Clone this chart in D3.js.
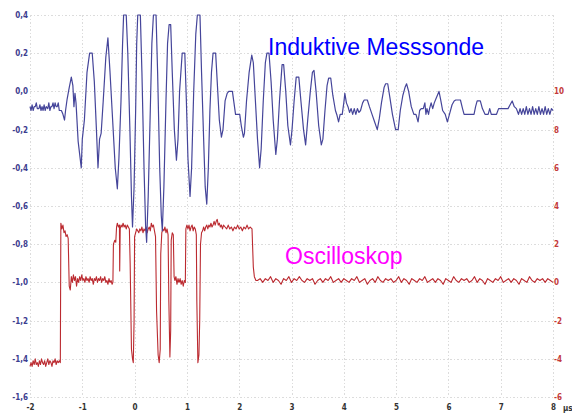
<!DOCTYPE html>
<html>
<head>
<meta charset="utf-8">
<script src="https://cdn.jsdelivr.net/npm/d3@7"></script>
<style>
  html, body { margin: 0; padding: 0; background: #fff; }
  svg { display: block; }
</style>
</head>
<body>
<svg id="chart" width="572" height="415"></svg>
<script>
// ---- tick values ----
const timeTicks = [-2, -1, 0, 1, 2, 3, 4, 5, 6, 7, 8];
const leftTicks = [0.4, 0.2, 0.0, -0.2, -0.4, -0.6, -0.8, -1.0, -1.2, -1.4, -1.6];
const rightTicks = [10, 8, 6, 4, 2, 0, -2, -4, -6];
const timeUnit = "µs";
const probeLabel = "Induktive Messsonde";
const scopeLabel = "Oscilloskop";

// ---- inductive probe signal [time µs, value (left axis)] ----
const probeSignal = [
  [-2.00,-0.08],[-1.98,-0.10],[-1.96,-0.07],[-1.94,-0.10],[-1.92,-0.08],[-1.90,-0.08],[-1.88,-0.06],
  [-1.86,-0.09],[-1.83,-0.09],[-1.81,-0.07],[-1.79,-0.10],[-1.77,-0.08],[-1.75,-0.10],[-1.73,-0.07],
  [-1.71,-0.10],[-1.69,-0.08],[-1.66,-0.09],[-1.64,-0.06],[-1.62,-0.10],[-1.60,-0.08],[-1.58,-0.08],
  [-1.56,-0.06],[-1.54,-0.09],[-1.52,-0.06],[-1.50,-0.08],[-1.48,-0.08],[-1.46,-0.06],[-1.44,-0.10],
  [-1.40,-0.10],[-1.37,-0.12],[-1.34,-0.15],[-1.32,-0.10],[-1.29,-0.04],[-1.25,0.02],[-1.21,0.075],
  [-1.18,0.03],[-1.16,-0.08],[-1.14,-0.01],[-1.12,-0.06],[-1.08,-0.26],[-1.02,-0.40],[-1.00,-0.25],
  [-0.96,-0.15],[-0.91,0.10],[-0.86,0.20],[-0.81,0.20],[-0.77,0.05],[-0.73,-0.20],[-0.70,-0.40],
  [-0.67,-0.25],[-0.64,-0.22],[-0.60,-0.05],[-0.55,0.18],[-0.51,0.28],[-0.47,0.10],[-0.42,-0.15],
  [-0.37,-0.40],[-0.33,-0.51],[-0.30,-0.35],[-0.26,-0.05],[-0.23,0.25],[-0.21,0.40],[-0.16,0.40],
  [-0.13,0.20],[-0.09,-0.20],[-0.06,-0.55],[-0.04,-0.71],[-0.01,-0.50],[0.02,-0.10],[0.04,0.25],
  [0.06,0.40],[0.11,0.40],[0.14,0.10],[0.18,-0.40],[0.21,-0.70],[0.23,-0.79],[0.26,-0.55],
  [0.30,-0.10],[0.33,0.25],[0.36,0.40],[0.41,0.40],[0.44,0.10],[0.48,-0.40],[0.51,-0.65],
  [0.53,-0.73],[0.56,-0.50],[0.60,-0.05],[0.63,0.25],[0.66,0.35],[0.69,0.35],[0.72,0.10],
  [0.76,-0.20],[0.80,-0.36],[0.83,-0.25],[0.86,0.00],[0.91,0.20],[0.96,0.20],[0.99,-0.05],
  [1.02,-0.35],[1.06,-0.55],[1.09,-0.40],[1.13,0.00],[1.17,0.30],[1.20,0.40],[1.25,0.40],
  [1.28,0.10],[1.32,-0.25],[1.35,-0.50],[1.38,-0.59],[1.41,-0.40],[1.44,-0.10],[1.47,0.10],
  [1.50,0.20],[1.55,0.20],[1.58,0.05],[1.62,-0.15],[1.66,-0.24],[1.69,-0.20],[1.73,-0.05],
  [1.77,-0.01],[1.80,0.00],[1.87,0.00],[1.90,-0.06],[1.93,-0.12],[2.01,-0.12],[2.04,-0.18],
  [2.08,-0.24],[2.10,-0.22],[2.14,-0.05],[2.19,0.10],[2.24,0.19],[2.27,0.15],[2.31,-0.05],
  [2.35,-0.25],[2.39,-0.40],[2.42,-0.30],[2.46,-0.05],[2.50,0.15],[2.53,0.20],[2.57,0.20],
  [2.61,0.05],[2.65,-0.15],[2.70,-0.33],[2.73,-0.25],[2.77,-0.05],[2.82,0.14],[2.85,0.14],
  [2.89,0.00],[2.93,-0.18],[2.98,-0.28],[3.01,-0.20],[3.05,-0.05],[3.09,0.075],[3.14,0.075],
  [3.18,-0.05],[3.23,-0.20],[3.27,-0.28],[3.31,-0.15],[3.36,0.00],[3.40,0.10],[3.43,0.11],
  [3.47,0.00],[3.52,-0.18],[3.57,-0.28],[3.60,-0.25],[3.64,-0.10],[3.68,0.03],[3.71,0.07],
  [3.75,0.07],[3.79,-0.02],[3.84,-0.10],[3.87,-0.125],[3.90,-0.16],[3.93,-0.12],[3.97,-0.12],
  [4.00,-0.06],[4.02,-0.01],[4.05,-0.06],[4.08,-0.08],[4.11,-0.11],[4.14,-0.09],[4.17,-0.12],
  [4.20,-0.09],[4.23,-0.12],[4.26,-0.09],[4.29,-0.11],[4.32,-0.10],[4.36,-0.06],[4.39,-0.045],
  [4.45,-0.045],[4.49,-0.08],[4.54,-0.12],[4.59,-0.16],[4.64,-0.20],[4.68,-0.14],[4.72,-0.06],
  [4.77,0.02],[4.80,0.04],[4.84,0.04],[4.88,-0.03],[4.93,-0.12],[4.99,-0.20],[5.04,-0.20],
  [5.08,-0.10],[5.13,-0.02],[5.17,0.02],[5.20,0.04],[5.24,0.00],[5.29,-0.08],[5.34,-0.12],
  [5.38,-0.12],[5.42,-0.16],[5.45,-0.10],[5.48,-0.09],[5.52,-0.09],[5.55,-0.06],[5.57,-0.12],
  [5.59,-0.09],[5.62,-0.12],[5.64,-0.09],[5.67,-0.06],[5.70,-0.09],[5.73,-0.06],[5.76,-0.04],
  [5.79,-0.02],[5.82,0.00],[5.85,-0.04],[5.89,-0.10],[5.94,-0.12],[5.98,-0.16],[6.02,-0.12],
  [6.07,-0.07],[6.11,-0.05],[6.14,-0.045],[6.23,-0.045],[6.27,-0.09],[6.30,-0.12],[6.40,-0.12],
  [6.49,-0.12],[6.52,-0.08],[6.55,-0.05],[6.61,-0.05],[6.65,-0.09],[6.70,-0.12],[6.76,-0.12],
  [6.79,-0.09],[6.82,-0.12],[6.87,-0.12],[6.92,-0.12],[6.96,-0.09],[7.00,-0.09],[7.05,-0.09],
  [7.10,-0.09],[7.14,-0.09],[7.18,-0.07],[7.22,-0.05],[7.26,-0.08],[7.30,-0.09],[7.34,-0.12],
  [7.37,-0.09],[7.40,-0.12],[7.43,-0.09],[7.46,-0.12],[7.49,-0.08],[7.52,-0.12],[7.55,-0.09],
  [7.58,-0.12],[7.61,-0.08],[7.64,-0.12],[7.67,-0.09],[7.70,-0.12],[7.73,-0.08],[7.76,-0.12],
  [7.79,-0.09],[7.82,-0.12],[7.85,-0.08],[7.88,-0.12],[7.91,-0.09],[7.94,-0.12],[7.97,-0.09],
  [8.00,-0.10]
];

// ---- oscilloscope signal [time µs, value (right axis)] ----
const scopeSignal = [
  [-2.00,-4.4],[-1.98,-4.2],[-1.96,-4.4],[-1.94,-4.1],[-1.92,-4.3],[-1.90,-4.0],[-1.88,-4.3],
  [-1.86,-4.2],[-1.84,-4.4],[-1.82,-4.1],[-1.80,-4.3],[-1.78,-4.0],[-1.76,-4.2],[-1.74,-4.3],
  [-1.72,-4.1],[-1.70,-4.4],[-1.68,-4.2],[-1.66,-4.0],[-1.64,-4.3],[-1.62,-4.1],[-1.60,-4.2],
  [-1.58,-4.4],[-1.56,-4.1],[-1.54,-4.2],[-1.52,-4.0],[-1.50,-4.3],[-1.48,-4.1],[-1.46,-4.2],
  [-1.44,-4.1],[-1.42,-4.2],[-1.41,3.1],[-1.39,2.8],[-1.37,3.0],[-1.35,2.6],[-1.33,2.7],
  [-1.31,2.4],[-1.29,2.5],[-1.27,2.3],[-1.25,-0.2],[-1.23,-0.4],[-1.21,0.3],[-1.19,0.0],
  [-1.17,0.4],[-1.15,0.1],[-1.13,0.3],[-1.11,-0.2],[-1.09,0.2],[-1.07,0.0],[-1.05,0.3],
  [-1.03,0.1],[-1.01,0.4],[-0.99,0.1],[-0.97,0.2],[-0.95,0.0],[-0.93,0.3],[-0.91,0.1],
  [-0.89,0.2],[-0.87,0.0],[-0.85,0.3],[-0.83,0.1],[-0.81,0.2],[-0.79,-0.1],[-0.77,0.2],
  [-0.75,0.1],[-0.73,0.3],[-0.71,0.0],[-0.69,0.2],[-0.67,0.1],[-0.65,0.3],[-0.63,0.0],
  [-0.61,0.2],[-0.59,0.1],[-0.57,0.3],[-0.55,0.0],[-0.53,0.1],[-0.51,-0.1],[-0.49,0.2],
  [-0.47,0.0],[-0.45,0.1],[-0.43,-0.1],[-0.415,0.0],[-0.405,2.0],[-0.38,2.2],[-0.36,2.1],
  [-0.345,2.9],[-0.33,3.1],[-0.31,2.9],[-0.29,3.0],[-0.285,0.6],[-0.275,2.8],[-0.26,3.0],
  [-0.24,2.9],[-0.22,3.1],[-0.20,2.9],[-0.18,3.0],[-0.16,2.8],[-0.14,3.0],[-0.12,2.9],
  [-0.10,2.8],[-0.085,1.0],[-0.06,-3.5],[-0.04,-4.0],[-0.025,-4.2],[-0.01,-2.0],[0.00,2.4],
  [0.02,2.6],[0.04,2.8],[0.06,2.7],[0.08,2.6],[0.10,2.8],[0.12,2.7],[0.14,2.9],[0.16,2.6],
  [0.18,2.8],[0.20,2.7],[0.22,2.9],[0.24,2.6],[0.26,2.8],[0.28,2.9],[0.30,2.7],[0.32,3.1],
  [0.34,2.9],[0.36,3.0],[0.38,2.7],[0.40,2.4],[0.42,-1.5],[0.45,-3.8],[0.47,-4.2],[0.49,-3.5],
  [0.50,1.5],[0.52,2.6],[0.54,2.8],[0.56,2.7],[0.58,2.9],[0.60,2.6],[0.62,2.8],[0.64,2.5],
  [0.655,-1.0],[0.675,-3.9],[0.69,-2.5],[0.70,2.2],[0.72,2.6],[0.74,2.5],[0.755,0.3],
  [0.77,0.1],[0.79,0.3],[0.81,-0.1],[0.83,0.2],[0.85,0.0],[0.87,0.2],[0.89,-0.1],[0.91,0.1],
  [0.93,-0.2],[0.95,0.1],[0.97,0.0],[0.98,2.8],[1.00,3.0],[1.02,2.8],[1.04,3.0],[1.06,2.7],
  [1.08,2.9],[1.10,3.0],[1.12,2.7],[1.14,2.9],[1.16,2.8],[1.18,2.5],[1.19,-1.0],[1.21,-4.2],
  [1.23,-3.8],[1.245,-2.0],[1.26,2.0],[1.28,2.6],[1.30,2.7],[1.32,2.9],[1.34,2.7],[1.36,2.9],
  [1.38,3.0],[1.40,2.8],[1.42,3.0],[1.44,2.9],[1.46,3.1],[1.48,2.9],[1.50,3.0],[1.52,3.2],
  [1.54,3.0],[1.56,3.2],[1.58,3.3],[1.60,3.0],[1.62,3.1],[1.64,2.9],[1.66,3.0],[1.68,2.8],
  [1.70,3.0],[1.73,2.9],[1.76,2.8],[1.79,3.0],[1.82,2.8],[1.85,2.9],[1.88,2.7],[1.91,2.9],
  [1.94,2.8],[1.97,3.0],[2.00,2.8],[2.03,2.9],[2.06,2.7],[2.09,2.9],[2.12,2.8],[2.15,3.0],
  [2.18,2.8],[2.21,2.9],[2.245,2.8],[2.27,0.8],[2.29,0.3],[2.32,0.1],
  [2.35,0.1],[2.40,0.2],[2.45,0.0],[2.50,0.2],[2.55,0.1],[2.60,0.3],[2.65,0.0],[2.70,0.2],
  [2.75,0.1],[2.80,-0.1],[2.85,0.2],[2.90,0.1],[2.95,0.3],[3.00,0.0],[3.05,0.2],[3.10,0.1],
  [3.15,0.3],[3.20,0.1],[3.25,0.0],[3.30,0.2],[3.35,0.1],[3.40,0.2],[3.45,-0.1],[3.50,0.1],
  [3.55,0.2],[3.60,0.0],[3.65,0.2],[3.70,0.1],[3.75,0.3],[3.80,0.0],[3.85,0.1],[3.90,0.2],
  [3.95,0.0],[4.00,0.2],[4.05,0.1],[4.10,0.0],[4.15,0.2],[4.20,0.1],[4.25,0.3],[4.30,0.0],
  [4.35,0.1],[4.40,0.2],[4.45,-0.1],[4.50,0.1],[4.55,0.2],[4.60,0.0],[4.65,0.3],[4.70,0.1],
  [4.75,0.0],[4.80,0.2],[4.85,0.1],[4.90,0.2],[4.95,0.0],[5.00,0.1],[5.05,0.3],[5.10,0.0],
  [5.15,0.2],[5.20,0.1],[5.25,-0.1],[5.30,0.2],[5.35,0.1],[5.40,0.0],[5.45,0.2],[5.50,0.1],
  [5.55,0.3],[5.60,0.0],[5.65,0.1],[5.70,0.2],[5.75,0.0],[5.80,0.2],[5.85,0.1],[5.90,-0.1],
  [5.95,0.2],[6.00,0.1],[6.05,0.0],[6.10,0.3],[6.15,0.1],[6.20,0.0],[6.25,0.2],[6.30,0.1],
  [6.35,0.2],[6.40,0.0],[6.45,0.1],[6.50,0.3],[6.55,0.0],[6.60,0.2],[6.65,0.1],[6.70,-0.1],
  [6.75,0.2],[6.80,0.1],[6.85,0.0],[6.90,0.2],[6.95,0.1],[7.00,0.3],[7.05,0.0],[7.10,0.1],
  [7.15,0.2],[7.20,0.0],[7.25,0.2],[7.30,0.1],[7.35,-0.1],[7.40,0.2],[7.45,0.1],[7.50,0.0],
  [7.55,0.3],[7.60,0.1],[7.65,0.0],[7.70,0.2],[7.75,0.1],[7.80,0.2],[7.85,0.0],[7.90,0.2],
  [7.95,0.1],[8.00,0.0]
];

// ---- layout ----
const svg = d3.select("#chart");
const plot = { left: 30, right: 553, top: 15, bottom: 397 };

const x = d3.scaleLinear().domain([-2, 8]).range([plot.left, plot.right]);
const yL = d3.scaleLinear().domain([-1.6, 0.4]).range([plot.bottom, plot.top]);
const yR = d3.scaleLinear().domain([-6, 14]).range([plot.bottom, plot.top]);

const labelFont = "'DejaVu Sans Condensed', 'DejaVu Sans', sans-serif";

// grid
const grid = svg.append("g").attr("stroke", "#dcdcdc").attr("stroke-width", 1)
  .attr("stroke-dasharray", "1.5,2").attr("shape-rendering", "crispEdges");
grid.selectAll("line.v").data(timeTicks).join("line").attr("class", "v")
  .attr("x1", d => Math.round(x(d)) + 0.5).attr("x2", d => Math.round(x(d)) + 0.5)
  .attr("y1", plot.top).attr("y2", plot.bottom);
grid.selectAll("line.h").data(leftTicks).join("line").attr("class", "h")
  .attr("y1", d => Math.round(yL(d)) + 0.5).attr("y2", d => Math.round(yL(d)) + 0.5)
  .attr("x1", plot.left).attr("x2", plot.right);

// axes
const fmtComma = d => d3.format(".1f")(d).replace(".", ",").replace("−", "-");

const axL = svg.append("g").attr("transform", `translate(${plot.left},0)`)
  .call(d3.axisLeft(yL).tickValues(leftTicks).tickSize(0).tickPadding(2).tickFormat(fmtComma));
axL.select(".domain").remove();
axL.selectAll("text").attr("fill", "#3d3d8f").style("font-family", labelFont)
  .style("font-size", "8px").style("font-weight", "bold");

const axR = svg.append("g").attr("transform", `translate(${plot.right},0)`)
  .call(d3.axisRight(yR).tickValues(rightTicks).tickSize(0).tickPadding(1).tickFormat(d => String(d)));
axR.select(".domain").remove();
axR.selectAll("text").attr("fill", "#c43a3a").style("font-family", labelFont)
  .style("font-size", "8px").style("font-weight", "bold");

const axB = svg.append("g").attr("transform", `translate(0,${plot.bottom})`)
  .call(d3.axisBottom(x).tickValues(timeTicks).tickSize(0).tickPadding(7).tickFormat(d => String(d)));
axB.select(".domain").remove();
axB.selectAll("text").attr("fill", "#333").style("font-family", labelFont)
  .style("font-size", "8px").style("font-weight", "bold");

svg.append("text").attr("x", 563).attr("y", 411).text(timeUnit)
  .attr("fill", "#333").style("font-family", labelFont).style("font-size", "8px").style("font-weight", "bold");

// series
const lineR = d3.line().x(d => x(d[0])).y(d => yR(d[1]));
const lineL = d3.line().x(d => x(d[0])).y(d => yL(d[1]));

svg.append("path").datum(scopeSignal).attr("d", lineR)
  .attr("fill", "none").attr("stroke", "#bb2a30").attr("stroke-width", 1.1).attr("stroke-linejoin", "round");
svg.append("path").datum(probeSignal).attr("d", lineL)
  .attr("fill", "none").attr("stroke", "#45459a").attr("stroke-width", 1.2).attr("stroke-linejoin", "round");

// labels
svg.append("text").attr("x", 268).attr("y", 55).text(probeLabel)
  .attr("fill", "#0000ff").style("font-family", "'Liberation Sans', Arial, sans-serif").style("font-size", "23px");
svg.append("text").attr("x", 285).attr("y", 264).text(scopeLabel)
  .attr("fill", "#ff00ff").style("font-family", "'Liberation Sans', Arial, sans-serif").style("font-size", "23px");
</script>
</body>
</html>
